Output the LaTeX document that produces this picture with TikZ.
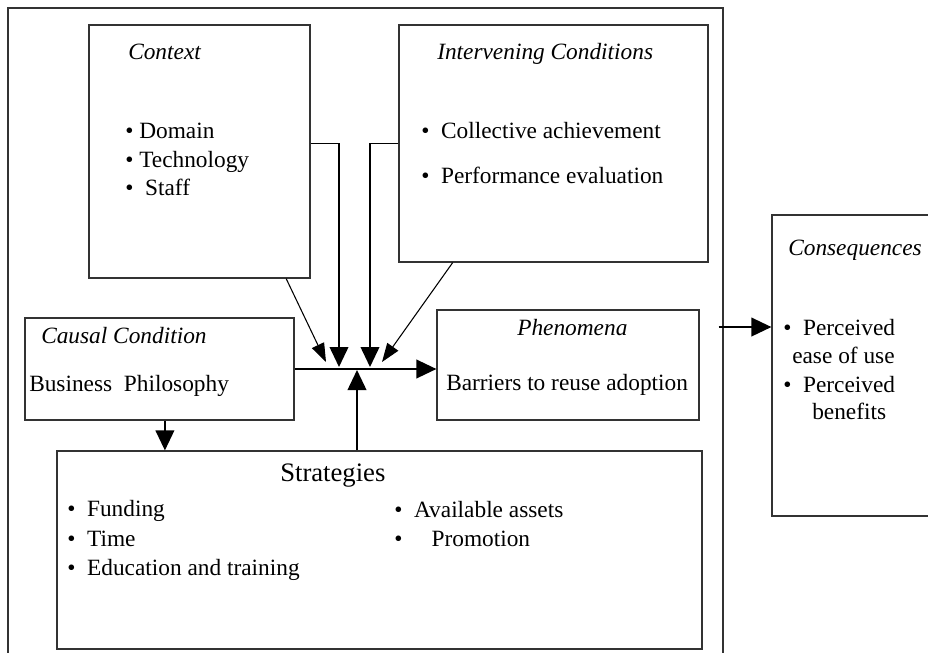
\documentclass[tikz,border=0pt]{standalone}
\usepackage{fontspec}
\setmainfont{Liberation Serif}
\usetikzlibrary{arrows.meta, fit, calc}

\begin{document}
\begin{tikzpicture}[
    x=0.75pt, y=-0.75pt,
    box/.style={rectangle, draw=black!80, line width=0.9pt, inner sep=0pt},
    txt/.style={anchor=base west, inner sep=0pt, font=\fontsize{17.5}{21}\selectfont},
    ttl/.style={txt, font=\fontsize{17.5}{21}\selectfont\itshape},
    arr/.style={-{Triangle[length=15pt, width=14pt]}, line width=1.3pt},
    slim/.style={-{Triangle[length=14pt, width=10pt]}, line width=0.8pt},
]
    \useasboundingbox (0,0) rectangle (928,653);
    % boxes
    \node[box, fit={(8,8) (723,670)}] (frame) {};
    \node[box, fit={(89,25) (310,278)}] (context) {};
    \node[box, fit={(399,25) (708,262)}] (inter) {};
    \node[box, fit={(25,318) (294,420)}] (causal) {};
    \node[box, fit={(437,310) (699,420)}] (phen) {};
    \node[box, fit={(57,451) (702,649)}] (strat) {};
    \node[box, fit={(772,215) (950,516)}] (conseq) {};

    % texts
    \node[ttl] (ctxtitle) at (128,59) {Context};
    \node[txt] (dom) at (125,138) {• Domain};
    \node[txt] (tech) at (125,167) {• Technology};
    \node[txt] (staff) at (125,195) {•\ \ Staff};

    \node[ttl] (intertitle) at (437,59) {Intervening Conditions};
    \node[txt] (coll) at (421,138) {•\ \ Collective achievement};
    \node[txt] (perf) at (421,183) {•\ \ Performance evaluation};

    \node[ttl] (caustitle) at (41,343) {Causal Condition};
    \node[txt] (bphil) at (29,391) {Business\ \ Philosophy};

    \node[ttl] (phentitle) at (517,335) {Phenomena};
    \node[txt] (barr) at (446,390) {Barriers to reuse adoption};

    \node[ttl] (conseqtitle) at (788,255) {Consequences};
    \node[txt] (per1) at (783,335) {•\ \ Perceived};
    \node[txt] (ease) at (792,363) {ease of use};
    \node[txt] (per2) at (783,392) {•\ \ Perceived};
    \node[txt] (bene) at (812,419) {benefits};

    \node[txt, font=\fontsize{20}{24}\selectfont] (strattitle) at (280,481) {Strategies};
    \node[txt] (fund) at (67,516) {•\ \ Funding};
    \node[txt] (time) at (67,546) {•\ \ Time};
    \node[txt] (edu) at (67,575) {•\ \ Education and training};
    \node[txt] (assets) at (394,517) {•\ \ Available assets};
    \node[txt] (promo) at (394,546) {•\ \ \ \ \ Promotion};

    % connectors
    \coordinate (hub) at (357,370);
    \coordinate (inA) at (339,367);
    \coordinate (inB) at (370,367);
    \coordinate (inL) at (326,362);
    \coordinate (inR) at (382,362);
    \draw[arr] (context.east |- inter.west) -| (inA);
    \draw[arr] (inter.west) -| (inB);
    \draw[slim] ($(context.south west)!0.89!(context.south east)$) -- (inL);
    \draw[slim] ($(inter.south west)!0.175!(inter.south east)$) -- (inR);
    \draw[arr] (causal.east) -- (causal.east -| phen.west);
    \draw[arr] (hub |- strat.north) -- (hub);
    \draw[arr] ($(causal.south west)!0.52!(causal.south east)$) coordinate (cdown) -- (cdown |- strat.north);
    \draw[arr] ($(frame.east |- per1)+(-5,0)$) -- (conseq.west |- per1);
\end{tikzpicture}
\end{document}
